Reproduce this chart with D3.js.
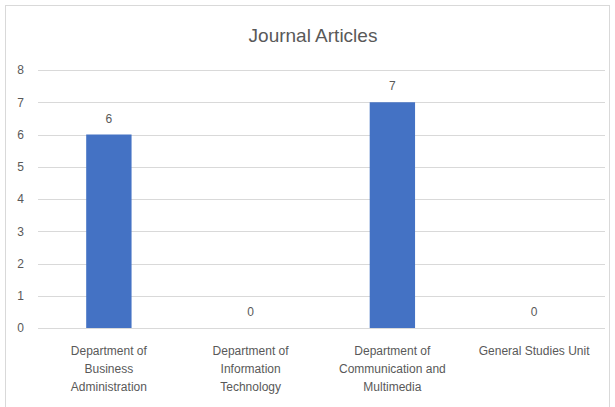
<!DOCTYPE html>
<meta charset="utf-8">
<script src="https://d3js.org/d3.v7.min.js"></script>
<style>
  body { margin: 0; background: #fff; }
  text { font-family: "Liberation Sans", Arial, sans-serif; fill: #595959; }
</style>
<body>
<svg width="615" height="407"></svg>
<script>
var departments = [
  ["Department of", "Business", "Administration"],
  ["Department of", "Information", "Technology"],
  ["Department of", "Communication and", "Multimedia"],
  ["General Studies Unit"]
];
var articles = [6, 0, 7, 0];
var yTicks = [0, 1, 2, 3, 4, 5, 6, 7, 8];

var svg = d3.select("svg"),
    margin = {top: 70, right: 10, bottom: 79, left: 38},
    width = +svg.attr("width") - margin.left - margin.right,
    height = +svg.attr("height") - margin.top - margin.bottom;

// chart border
svg.append("rect")
    .attr("x", 5.5).attr("y", 5.5)
    .attr("width", 604).attr("height", 402)
    .attr("fill", "#fff")
    .attr("stroke", "#d9d9d9");

var g = svg.append("g").attr("transform", "translate(" + margin.left + "," + margin.top + ")");

var x = d3.scaleBand()
    .domain(d3.range(departments.length))
    .range([0, width])
    .paddingInner(0.68)
    .paddingOuter(0.34);

var y = d3.scaleLinear()
    .domain([0, 8])
    .range([height, 0]);

// gridlines
g.append("g")
  .selectAll("line")
  .data(yTicks)
  .enter().append("line")
    .attr("x1", 0)
    .attr("x2", width)
    .attr("y1", function(d) { return Math.round(y(d)) + 0.5; })
    .attr("y2", function(d) { return Math.round(y(d)) + 0.5; })
    .attr("stroke", "#d9d9d9");

// y axis labels
var yAxis = g.append("g")
    .call(d3.axisLeft(y).tickValues(yTicks).tickSize(0).tickPadding(14));
yAxis.select(".domain").remove();
yAxis.selectAll("text")
    .attr("font-size", 12)
    .attr("font-family", null)
    .attr("fill", "#595959");

// bars
g.append("g")
  .selectAll("rect")
  .data(articles)
  .enter().append("rect")
    .attr("x", function(d, i) { return x(i); })
    .attr("y", function(d) { return y(d); })
    .attr("width", x.bandwidth())
    .attr("height", function(d) { return height - y(d); })
    .attr("fill", "#4472c4");

// value labels
g.append("g")
  .selectAll("text")
  .data(articles)
  .enter().append("text")
    .attr("x", function(d, i) { return x(i) + x.bandwidth() / 2; })
    .attr("y", function(d) { return y(d) - 12; })
    .attr("text-anchor", "middle")
    .attr("font-size", 12)
    .text(function(d) { return d; });

// category labels
var cat = g.append("g")
  .selectAll("text")
  .data(departments)
  .enter().append("text")
    .attr("x", function(d, i) { return x(i) + x.bandwidth() / 2; })
    .attr("y", height + 27)
    .attr("text-anchor", "middle")
    .attr("font-size", 12);

cat.selectAll("tspan")
  .data(function(d) { return d; })
  .enter().append("tspan")
    .attr("x", function() { return d3.select(this.parentNode).attr("x"); })
    .attr("dy", function(d, i) { return i === 0 ? 0 : 18; })
    .text(function(d) { return d; });

// title
svg.append("text")
    .attr("x", 313)
    .attr("y", 42)
    .attr("text-anchor", "middle")
    .attr("font-size", 19)
    .text("Journal Articles");
</script>
</body>
